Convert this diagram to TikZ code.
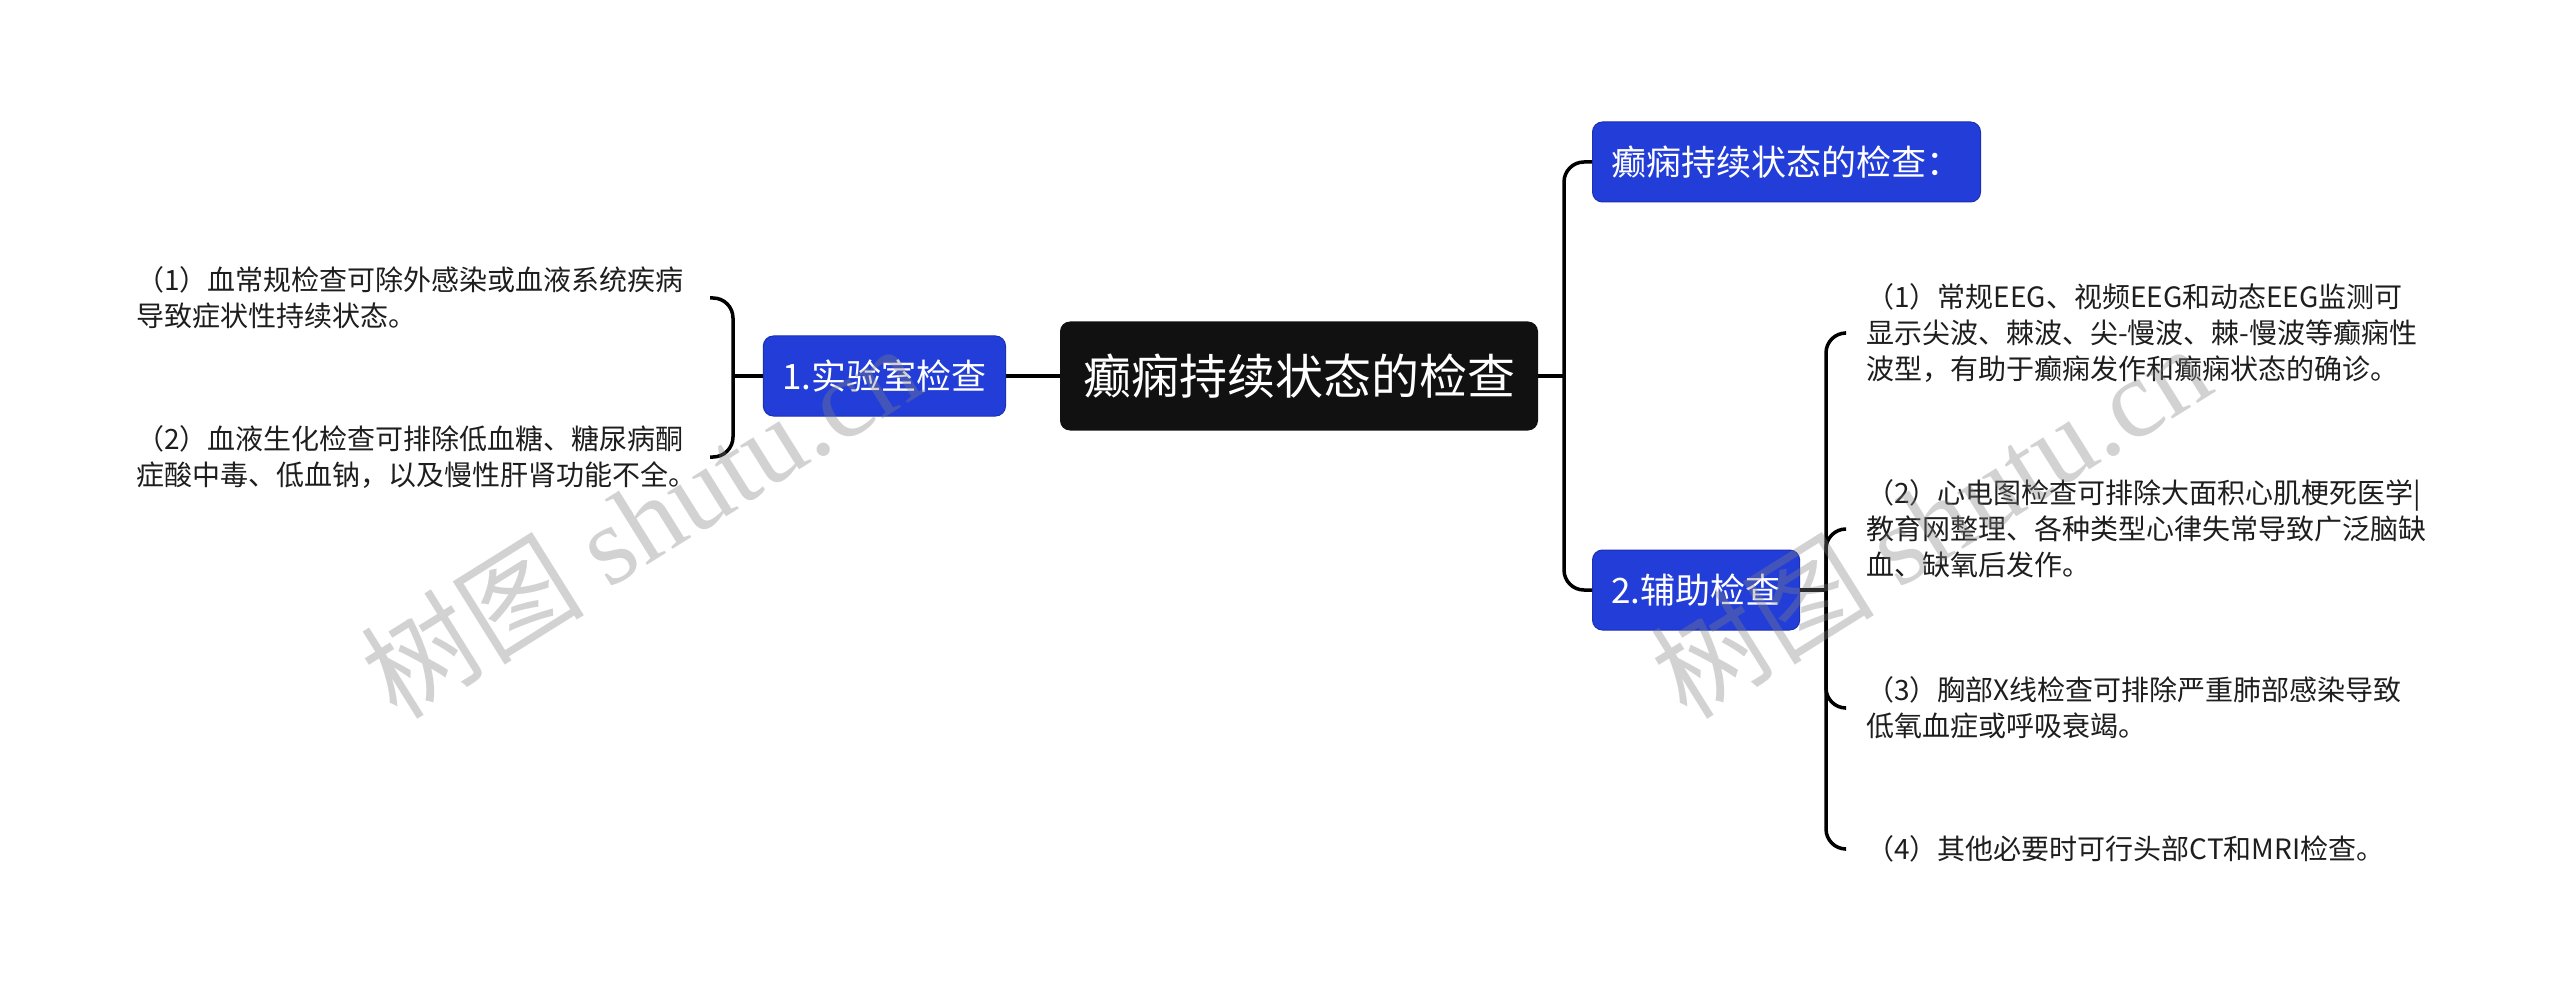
\documentclass[tikz,border=0pt]{standalone}
\usepackage{fontspec}
\setmainfont{Noto Sans CJK SC}
\newfontfamily\wmcjk{Noto Sans CJK SC}
\newfontfamily\wmlat{Liberation Serif}
\definecolor{bluebox}{RGB}{35,62,216}
\definecolor{blueedge}{RGB}{28,48,180}
\definecolor{rootfill}{RGB}{17,17,17}
\definecolor{leaftext}{RGB}{30,30,30}
\tikzset{
  rootbox/.style={fill=rootfill, rounded corners=10pt, text=white,
    font=\fontsize{48}{56}\selectfont, inner xsep=23pt, inner ysep=0pt,
    minimum height=109pt},
  subbox/.style={fill=bluebox, draw=blueedge, line width=1pt, rounded corners=10pt,
    text=white, font=\fontsize{35}{42}\selectfont, inner xsep=19pt, inner ysep=0pt,
    minimum height=80pt},
  leafl/.style={font=\fontsize{28}{36}\selectfont, align=left, text=leaftext,
    inner ysep=0pt, inner xsep=0pt, anchor=west},
  leafr/.style={font=\fontsize{28}{36}\selectfont, align=left, text=leaftext,
    inner ysep=0pt, inner xsep=21pt, anchor=west},
  conn/.style={line width=3.5pt, rounded corners=20pt, black},
  wmark/.style={text=black!50, opacity=0.35, rotate=32,
    font=\fontsize{112}{120}\selectfont, inner sep=0pt}
}
\begin{document}
\begin{tikzpicture}[x=1pt,y=-1pt]
\useasboundingbox (0,0) rectangle (2560,1000);
\fill[white] (0,0) rectangle (2560,1000);

% nodes
\node[rootbox] (root) at (1299,376) {癫痫持续状态的检查};
\node[subbox, anchor=east] (lab) at (1006,376) {1.实验室检查};
\node[subbox, anchor=west] (def) at (1592,162) {癫痫持续状态的检查：};
\node[subbox, anchor=west] (aux) at (1592,590) {2.辅助检查};

\node[leafl] (l1) at (136,298) {（1）血常规检查可除外感染或血液系统疾病\\导致症状性持续状态。};
\node[leafl] (l2) at (136,457) {（2）血液生化检查可排除低血糖、糖尿病酮\\症酸中毒、低血钠，以及慢性肝肾功能不全。};

\node[leafr] (r1) at (1845,333) {（1）常规EEG、视频EEG和动态EEG监测可\\显示尖波、棘波、尖-慢波、棘-慢波等癫痫性\\波型，有助于癫痫发作和癫痫状态的确诊。};
\node[leafr] (r2) at (1845,529) {（2）心电图检查可排除大面积心肌梗死医学|\\教育网整理、各种类型心律失常导致广泛脑缺\\血、缺氧后发作。};
\node[leafr] (r3) at (1845,708) {（3）胸部X线检查可排除严重肺部感染导致\\低氧血症或呼吸衰竭。};
\node[leafr] (r4) at (1845,849) {（4）其他必要时可行头部CT和MRI检查。};

% junctions and bracket ends
\coordinate (lj) at (733,376);
\coordinate (le1) at (710,0 |- l1.west);
\coordinate (le2) at (710,0 |- l2.west);
\coordinate (rj) at (1564,376);
\coordinate (aj) at (1826,590);

% connectors
\draw[conn] (root.west) -- (lab.east);
\draw[conn] (lab.west) -- (lj);
\draw[conn] (lj) |- (le1);
\draw[conn] (lj) |- (le2);

\draw[conn] (root.east) -- (rj);
\draw[conn] (rj) |- (def.west);
\draw[conn] (rj) |- (aux.west);

\draw[conn] (aux.east) -- (aj);
\draw[conn] (aj) |- (r1.west);
\draw[conn] (aj) |- (r2.west);
\draw[conn] (aj) |- (r3.west);
\draw[conn] (aj) |- (r4.west);

% watermarks
\node[wmark] (wm1) at (640,520) {{\wmcjk 树图} {\wmlat shutu.cn}};
\node[wmark] (wm2) at (1930,520) {{\wmcjk 树图} {\wmlat shutu.cn}};
\end{tikzpicture}
\end{document}
